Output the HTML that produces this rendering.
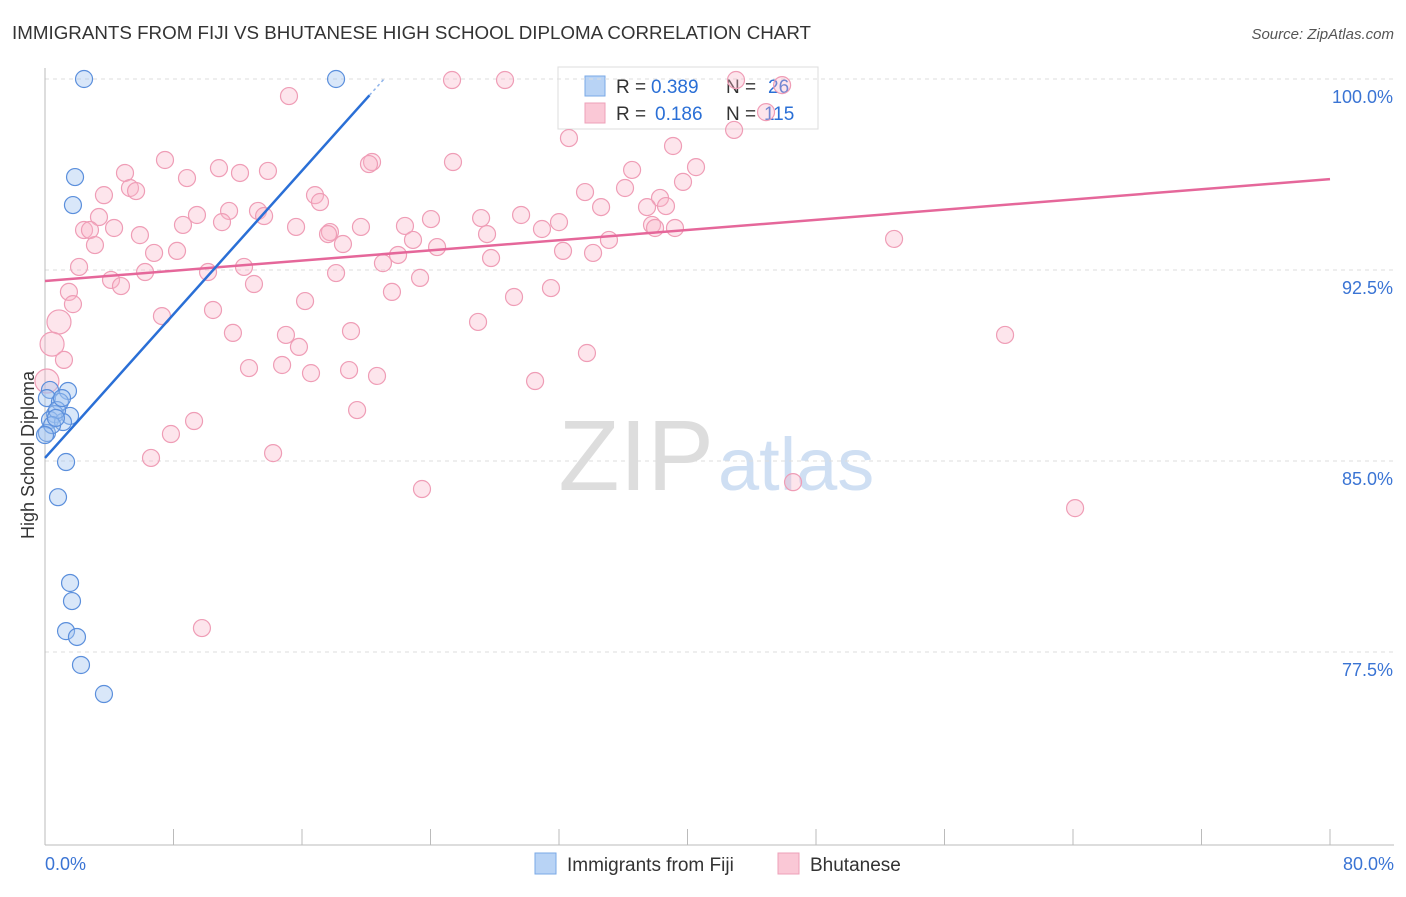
<!DOCTYPE html>
<html><head><meta charset="utf-8"><style>
body{margin:0;background:#fff;font-family:"Liberation Sans",sans-serif;}
svg text{font-family:"Liberation Sans",sans-serif;}
</style></head><body>
<svg id="c" width="1406" height="892" xmlns="http://www.w3.org/2000/svg">
<text x="12" y="39" font-size="18" fill="#333" textLength="799" lengthAdjust="spacingAndGlyphs">IMMIGRANTS FROM FIJI VS BHUTANESE HIGH SCHOOL DIPLOMA CORRELATION CHART</text>
<text x="1394" y="39" font-size="15" fill="#555" font-style="italic" text-anchor="end">Source: ZipAtlas.com</text>
<text x="714" y="490" font-size="100" fill="#ddd" text-anchor="end" font-family="Liberation Serif">ZIP</text>
<text x="718" y="490" font-size="74" fill="#cfdff3">atlas</text>
<rect x="558" y="67" width="260" height="62" fill="#fff" stroke="#ddd"/>
<rect x="585" y="76" width="20" height="20" fill="#b8d3f5" stroke="#7aa8e6"/>
<rect x="585" y="103" width="20" height="20" fill="#fac8d6" stroke="#eea0b8"/>
<text x="616" y="93" font-size="19" fill="#333">R =</text>
<text x="651" y="93" font-size="19" fill="#2a6fd6">0.389</text>
<text x="726" y="93" font-size="19" fill="#333">N =</text>
<text x="768" y="93" font-size="19" fill="#2a6fd6">26</text>
<text x="616" y="120" font-size="19" fill="#333">R =</text>
<text x="655" y="120" font-size="19" fill="#2a6fd6">0.186</text>
<text x="726" y="120" font-size="19" fill="#333">N =</text>
<text x="764" y="120" font-size="19" fill="#2a6fd6">115</text>
<g id="grid"></g><g id="axes"></g><g id="pts"></g><g id="lines"></g>
<text transform="translate(34,455) rotate(-90)" font-size="18" fill="#333" text-anchor="middle">High School Diploma</text>
<rect x="535" y="853" width="21" height="21" fill="#b8d3f5" stroke="#7aa8e6"/>
<text x="567" y="871" font-size="19" fill="#333">Immigrants from Fiji</text>
<rect x="778" y="853" width="21" height="21" fill="#fac8d6" stroke="#eea0b8"/>
<text x="810" y="871" font-size="19" fill="#333">Bhutanese</text>
</svg>
<script>
const fijiX=[2.43,18.12,1.87,1.74,0.31,1.43,0.12,0.93,0.62,1.56,0.31,1.12,0.12,1.31,0.81,1.56,1.68,1.31,1.99,2.24,3.67,0.75,0.44,0,1.06,0.68];
const fijiY=[100,100,96.15,95.05,87.79,87.75,87.47,87.32,86.84,86.77,86.61,86.53,86.10,84.96,83.58,80.21,79.50,78.32,78.09,76.99,75.85,87.0,86.41,86.02,87.47,86.69];
const bhuX=[15.19,25.34,28.64,43.02,45.89,44.89,42.90,32.62,39.10,7.47,20.36,20.17,25.40,10.83,12.14,13.88,4.98,36.55,40.53,8.84,39.72,3.67,5.29,5.67,16.81,33.62,36.11,38.29,17.12,34.62,37.48,38.66,3.36,9.46,11.46,13.26,13.64,29.64,27.15,32.00,24.03,11.02,2.43,2.80,4.30,5.91,8.59,15.63,17.74,19.67,22.41,17.62,30.94,37.79,37.98,39.22,27.52,3.11,6.79,8.22,18.55,22.91,24.41,35.11,52.86,34.12,21.98,32.25,2.12,6.23,10.15,12.39,18.12,21.04,27.77,4.11,4.73,23.35,13.01,1.49,1.74,16.19,21.60,29.20,31.50,10.46,7.28,0.87,11.70,15.00,19.05,26.96,59.77,0.44,15.81,1.18,33.74,12.70,14.76,16.56,18.93,20.67,30.51,0.12,19.43,9.28,7.84,6.60,14.20,23.47,46.57,64.13,9.77];
const bhuY=[99.33,99.96,99.96,99.96,99.76,98.70,98.00,97.68,97.37,96.82,96.74,96.66,96.74,96.50,96.31,96.39,96.31,96.43,96.54,96.11,95.96,95.44,95.72,95.60,95.44,95.56,95.72,95.33,95.17,94.97,94.97,95.01,94.58,94.66,94.82,94.82,94.62,94.66,94.54,94.38,94.50,94.38,94.07,94.07,94.15,93.87,94.27,94.19,93.99,94.19,94.23,93.91,94.11,94.27,94.15,94.15,93.91,93.48,93.17,93.25,93.52,93.68,93.40,93.68,93.72,93.17,93.09,93.25,92.62,92.42,92.42,92.62,92.38,92.77,92.97,92.11,91.87,92.19,91.95,91.64,91.16,91.28,91.64,91.44,91.79,90.93,90.69,90.46,90.03,89.95,90.10,90.46,89.95,89.59,89.48,88.97,89.24,88.65,88.77,88.45,88.57,88.34,88.14,88.14,87.00,86.57,86.06,85.12,85.31,83.90,84.17,83.15,78.44];
const yTicks=[100,92.5,85,77.5];
const yTickLabels=["100.0%","92.5%","85.0%","77.5%"];
const fijiTrend=[85.12,0.705];
const bhuTrend=[92.07,0.05];
const xs=v=>45+v*1285/80, ys=v=>79+(100-v)*191/7.5;
const NS="http://www.w3.org/2000/svg";
function mk(p,t,a){const e=document.createElementNS(NS,t);for(const k in a)e.setAttribute(k,a[k]);p.appendChild(e);return e;}
const grid=document.getElementById('grid'),axes=document.getElementById('axes'),pts=document.getElementById('pts'),lines=document.getElementById('lines');
yTicks.forEach((v,i)=>{
 const l=mk(grid,'line',{x1:45,x2:1394,y1:ys(v),y2:ys(v),stroke:'#ddd','stroke-dasharray':'4,4'});
 
 
 const t=mk(grid,'text',{x:1393,y:ys(v)+24,'font-size':18,fill:'#3a74d4','text-anchor':'end'});t.textContent=yTickLabels[i];
 
 
});
let a=mk(axes,'line',{x1:45,x2:45,y1:68,y2:845,stroke:'#bbb'});


a=mk(axes,'line',{x1:45,x2:1394,y1:845,y2:845,stroke:'#bbb'});


for(let i=0;i<=10;i++){const tk=mk(axes,'line',{x1:xs(i*8),x2:xs(i*8),y1:829,y2:845,stroke:'#bbb'});
 
 }
let t=mk(axes,'text',{x:45,y:870,'font-size':18,fill:'#3a74d4'});t.textContent='0.0%';


t=mk(axes,'text',{x:1394,y:870,'font-size':18,fill:'#3a74d4','text-anchor':'end'});t.textContent='80.0%';


bhuX.forEach((x,i)=>{const r=x<1?12:8.5;
 const c=mk(pts,'circle',{cx:xs(x),cy:ys(bhuY[i]),r:r,fill:'rgba(248,180,200,0.35)',stroke:'#ef9db6','stroke-width':1.2});
 
 });
fijiX.forEach((x,i)=>{
 const c=mk(pts,'circle',{cx:xs(x),cy:ys(fijiY[i]),r:8.5,fill:'rgba(160,195,240,0.4)',stroke:'#5b8fdc','stroke-width':1.2});
 
 });
let L=mk(lines,'line',{x1:xs(0),y1:ys(bhuTrend[0]),x2:xs(80),y2:ys(bhuTrend[0]+80*bhuTrend[1]),stroke:'#e5679a','stroke-width':2.5});


L=mk(lines,'line',{x1:xs(0),y1:ys(fijiTrend[0]),x2:xs(20.2),y2:ys(fijiTrend[0]+20.2*fijiTrend[1]),stroke:'#2a6fd6','stroke-width':2.5});


L=mk(lines,'line',{x1:xs(20.2),y1:ys(fijiTrend[0]+20.2*fijiTrend[1]),x2:xs(21.1),y2:ys(fijiTrend[0]+21.1*fijiTrend[1]),stroke:'#8fb4ea','stroke-width':1.5,'stroke-dasharray':'3,3'});


</script>
</body></html>
